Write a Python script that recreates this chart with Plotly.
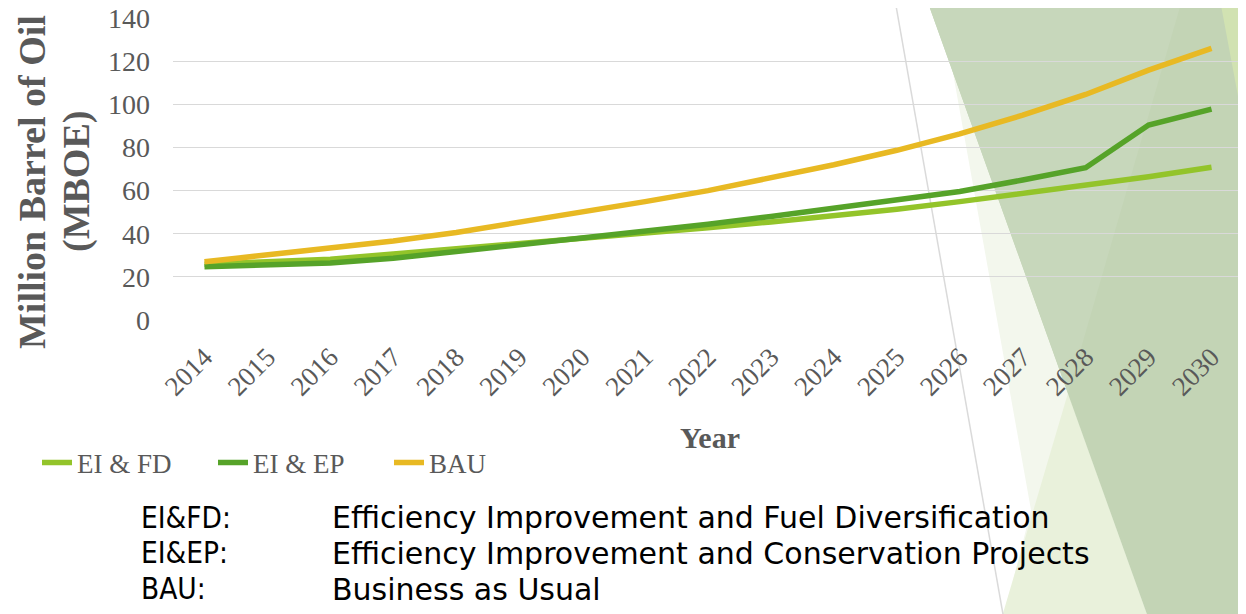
import plotly.graph_objects as go

years = [str(y) for y in range(2014, 2031)]
ei_fd = [25.8, 26.8, 28.2, 30.6, 33.0, 35.2, 37.8, 40.3, 42.8, 45.5, 48.3, 51.4, 54.9, 58.7, 62.6, 66.4, 70.8]
ei_ep = [24.7, 25.3, 26.4, 28.6, 31.7, 34.7, 37.9, 41.0, 44.4, 48.0, 51.8, 55.8, 59.6, 64.9, 70.6, 90.4, 97.8]
bau = [27.0, 30.1, 33.2, 36.6, 40.6, 45.3, 49.8, 54.9, 60.0, 65.7, 72.0, 78.7, 86.3, 95.0, 104.6, 115.9, 126.0]

series_names = ["EI & FD", "EI & EP", "BAU"]
series_colors = ["#93C42A", "#56A329", "#E8B923"]

abbrevs = ["EI&FD:", "EI&EP:", "BAU:"]
meanings = ["Efficiency Improvement and Fuel Diversification",
            "Efficiency Improvement and Conservation Projects",
            "Business as Usual"]

# page body has an 8px margin: design in window pixels, figure shifted by 8
OFF = 8
W, H = 1246 - OFF, 614 - OFF
PL, PR, PT, PB = 173, 1243, 18, 320          # plot area in window pixels
L, R, T, B = PL - OFF, (OFF + W) - PR, PT - OFF, (OFF + H) - PB
PW = PR - PL
PH = PB - PT


def px2x(px):
    return (px - PL) / PW


def py2y(py):
    return (PB - py) / PH


def poly(points):
    return "M" + " L".join(f"{px2x(x):.5f},{py2y(y):.5f}" for x, y in points) + " Z"


fig = go.Figure()
for name, vals, col in zip(series_names, [ei_fd, ei_ep, bau], series_colors):
    fig.add_trace(go.Scatter(x=years, y=vals, name=name, mode="lines",
                             line=dict(color=col, width=5.5)))

serif = "Liberation Serif, Times New Roman, serif"
grey = "#595959"

shapes = []
bg = dict(line=dict(width=0), layer="below", xref="paper", yref="paper", type="path")
shapes.append(dict(bg, path=poly([(940, 0), (1250, 0), (1250, 620), (1003, 620), (1031, 510)]),
                   fillcolor="#f3f7ed"))
shapes.append(dict(bg, path=poly([(1068, 393), (1149, 620), (1001, 620)]), fillcolor="#e9f1db"))
shapes.append(dict(bg, path=poly([(927, 0), (1250, 0), (1250, 620), (1149, 620)]), fillcolor="#c3d4b5"))
shapes.append(dict(bg, path=poly([(927, 0), (1182, 0), (1068, 393)]), fillcolor="#c7d7bb"))
shapes.append(dict(bg, path=poly([(1220, 0), (1250, 0), (1250, 160)]), fillcolor="#d1e2b2"))
shapes.append(dict(type="line", x0=px2x(895), y0=py2y(0), x1=px2x(1004), y1=py2y(620),
                   line=dict(color="#dadada", width=1.5), layer="below", xref="paper", yref="paper"))

annotations = []
annotations.append(dict(text="<b>Million Barrel of Oil</b>", textangle=-90, x=px2x(32), y=py2y(182),
                        xref="paper", yref="paper", showarrow=False, xanchor="center", yanchor="middle",
                        font=dict(family=serif, size=38, color=grey)))
annotations.append(dict(text="<b>(MBOE)</b>", textangle=-90, x=px2x(76), y=py2y(182),
                        xref="paper", yref="paper", showarrow=False, xanchor="center", yanchor="middle",
                        font=dict(family=serif, size=38, color=grey)))
annotations.append(dict(text="<b>Year</b>", x=px2x(710), y=py2y(437),
                        xref="paper", yref="paper", showarrow=False, xanchor="center", yanchor="middle",
                        font=dict(family=serif, size=30, color=grey)))
rows_y = [517.5, 553, 589]
for a, m, yy in zip(abbrevs, meanings, rows_y):
    annotations.append(dict(text=a, x=px2x(139), y=py2y(yy), xref="paper", yref="paper",
                            showarrow=False, xanchor="left", yanchor="middle",
                            font=dict(family="DejaVu Sans Condensed, DejaVu Sans, sans-serif",
                                      size=29.5, color="#000000")))
    annotations.append(dict(text=m, x=px2x(330), y=py2y(yy), xref="paper", yref="paper",
                            showarrow=False, xanchor="left", yanchor="middle",
                            font=dict(family="DejaVu Sans, sans-serif", size=30, color="#000000")))

fig.update_layout(
    width=W, height=H,
    margin=dict(l=L, r=R, t=T, b=B, pad=0, autoexpand=False),
    paper_bgcolor="white", plot_bgcolor="rgba(0,0,0,0)",
    showlegend=True,
    legend=dict(orientation="h", x=px2x(37), y=py2y(463), xanchor="left", yanchor="middle",
                xref="paper", yref="paper",
                font=dict(family=serif, size=27, color=grey), entrywidth=131, entrywidthmode="pixels",
                bgcolor="rgba(0,0,0,0)"),
    shapes=shapes, annotations=annotations,
    xaxis=dict(type="category", range=[-0.5, 16.5], showgrid=False, showline=False, zeroline=False,
               automargin=False,
               tickangle=-45, ticklabelstandoff=15, tickfont=dict(family=serif, size=27, color=grey)),
    yaxis=dict(range=[0, 140.05], tickvals=[0, 20, 40, 60, 80, 100, 120, 140], automargin=False,
               showgrid=True, gridcolor="#d9d9d9", gridwidth=1.3,
               zeroline=False, showline=False, ticklabelstandoff=22, ticklabeloverflow="allow",
               tickfont=dict(family=serif, size=28, color=grey)),
)

fig.write_html("out.html")
